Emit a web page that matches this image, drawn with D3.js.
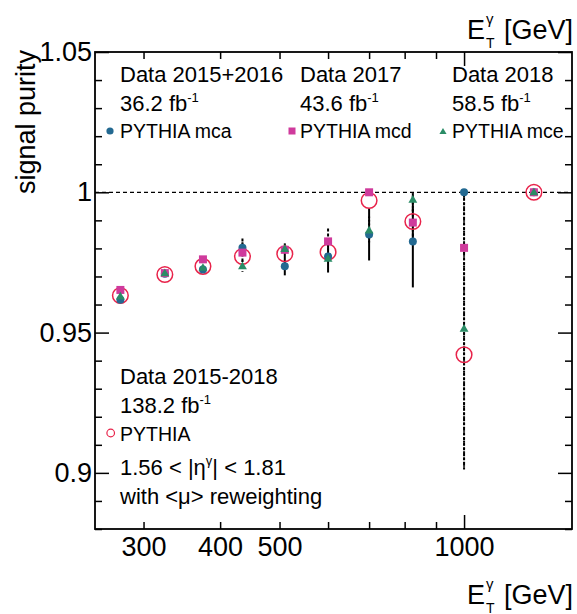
<!DOCTYPE html>
<html>
<head>
<meta charset="utf-8">
<script src="https://cdn.jsdelivr.net/npm/d3@7"></script>
<style>
  html, body { margin: 0; padding: 0; background: #fff; }
  svg { display: block; font-family: "Liberation Sans", Arial, Helvetica, sans-serif; }
</style>
</head>
<body>
<svg id="chart" width="577" height="614"></svg>
<script>
// ---------------- data ----------------
const binCenters = [275, 325, 375, 435, 510, 600, 700, 825, 1000, 1300];

const pythia = [0.9632, 0.9707, 0.9736, 0.9771, 0.9781, 0.9787, 0.9971, 0.9896, 0.9421, 1.0];

const mca    = [0.9617, 0.9710, 0.9725, 0.9802, 0.9736, 0.9771, 0.9850, 0.9825, 1.0000, 1.0];
const mcaLo  = [0, 0, 0, 0.002, 0.0032, 0.0057, 0.0093, 0.0164, 0, 0];
const mcaHi  = [0, 0, 0, 0.002, 0.0082, 0.0064, 0.0093, 0.0171, 0, 0];

const mcd    = [0.9652, 0.9712, 0.9761, 0.9785, 0.9795, 0.9825, 1.0000, 0.9892, 0.9802, 1.0];
const mcdLo  = [0, 0, 0, 0.005, 0, 0.003, 0, 0.005, 0.079, 0];
const mcdHi  = [0, 0, 0, 0.005, 0, 0.0046, 0, 0.005, 0.0198, 0];

const mce    = [0.9629, 0.9712, 0.9731, 0.9737, 0.9798, 0.9763, 0.9864, 0.9974, 0.9514, 1.0];
const mceLo  = [0, 0, 0, 0.002, 0, 0, 0.005, 0.005, 0.050, 0];
const mceHi  = [0, 0, 0, 0.002, 0, 0, 0.005, 0.0026, 0.0486, 0];

const xLabelTicks = [300, 400, 500, 1000];
const xMinorTicks = [300, 400, 500, 600, 700, 800, 900];
const xMajorTicks = [1000];
const yMajorTicks = [0.9, 0.95, 1.0, 1.05];
const yMinorTicks = [0.88, 0.89, 0.91, 0.92, 0.93, 0.94, 0.96, 0.97, 0.98, 0.99, 1.01, 1.02, 1.03, 1.04];

// ---------------- layout ----------------
const X0 = 95, X1 = 572, Y0 = 52, Y1 = 529;
const svg = d3.select("#chart");

const x = d3.scaleLog().domain([250, 1500]).range([X0, X1]);
const y = d3.scaleLinear().domain([0.88, 1.05]).range([Y1, Y0]);

const colMca = "#236991", colMcd = "#cf3a9c", colMce = "#2a8c66", colPy = "#e8234a";

// ---------------- axes ----------------
function styleAxis(g) {
  g.select(".domain").remove();
  g.selectAll(".tick line").attr("stroke", "#000").attr("stroke-width", 1.5);
  g.selectAll(".tick text").attr("fill", "#000").attr("font-size", 27)
    .attr("font-family", "'Liberation Sans', Arial, Helvetica, sans-serif");
}
// bottom
svg.append("g").attr("transform", `translate(0,${Y1})`)
  .call(d3.axisBottom(x).tickValues(xMinorTicks).tickSize(-7).tickFormat(""))
  .call(styleAxis);
svg.append("g").attr("transform", `translate(0,${Y1})`)
  .call(d3.axisBottom(x).tickValues(xMajorTicks).tickSize(-14).tickFormat(""))
  .call(styleAxis);
svg.append("g").attr("transform", `translate(0,${Y1})`)
  .call(d3.axisBottom(x).tickValues(xLabelTicks).tickSize(0).tickPadding(8).tickFormat(d3.format("d")))
  .call(styleAxis);
// top
svg.append("g").attr("transform", `translate(0,${Y0})`)
  .call(d3.axisTop(x).tickValues(xMinorTicks).tickSize(-7).tickFormat(""))
  .call(styleAxis);
svg.append("g").attr("transform", `translate(0,${Y0})`)
  .call(d3.axisTop(x).tickValues(xMajorTicks).tickSize(-14).tickFormat(""))
  .call(styleAxis);
// left
svg.append("g").attr("transform", `translate(${X0},0)`)
  .call(d3.axisLeft(y).tickValues(yMinorTicks).tickSize(-7).tickFormat(""))
  .call(styleAxis);
svg.append("g").attr("transform", `translate(${X0},0)`)
  .call(d3.axisLeft(y).tickValues(yMajorTicks).tickSize(-14).tickPadding(3).tickFormat(d => d === 1 ? "1" : d3.format("")(+d.toFixed(2))))
  .call(styleAxis);
// right
svg.append("g").attr("transform", `translate(${X1},0)`)
  .call(d3.axisRight(y).tickValues(yMinorTicks).tickSize(-7).tickFormat(""))
  .call(styleAxis);
svg.append("g").attr("transform", `translate(${X1},0)`)
  .call(d3.axisRight(y).tickValues(yMajorTicks).tickSize(-14).tickFormat(""))
  .call(styleAxis);

// frame
svg.append("rect").attr("x", X0).attr("y", Y0).attr("width", X1 - X0).attr("height", Y1 - Y0)
  .attr("fill", "none").attr("stroke", "#000").attr("stroke-width", 1.8);

// reference line at 1
svg.append("line").attr("x1", X0).attr("x2", X1).attr("y1", y(1)).attr("y2", y(1))
  .attr("stroke", "#000").attr("stroke-width", 1.2).attr("stroke-dasharray", "4,3");

// ---------------- error bars ----------------
function errBars(vals, lo, hi, dash) {
  svg.append("g").selectAll("line")
    .data(binCenters.map((c, i) => ({c, v: vals[i], lo: lo[i], hi: hi[i]})).filter(d => d.lo > 0 || d.hi > 0))
    .join("line")
    .attr("x1", d => x(d.c)).attr("x2", d => x(d.c))
    .attr("y1", d => y(d.v + d.hi)).attr("y2", d => y(d.v - d.lo))
    .attr("stroke", "#000").attr("stroke-width", 2)
    .attr("stroke-dasharray", dash);
}
errBars(mca, mcaLo, mcaHi, null);
errBars(mcd, mcdLo, mcdHi, "3,2");
errBars(mce, mceLo, mceHi, "1.5,2");

// ---------------- markers ----------------
const pts = arr => binCenters.map((c, i) => ({c, v: arr[i]}));

svg.append("g").selectAll("circle").data(pts(pythia)).join("circle")
  .attr("cx", d => x(d.c)).attr("cy", d => y(d.v)).attr("r", 7.8)
  .attr("fill", "none").attr("stroke", colPy).attr("stroke-width", 1.5);

svg.append("g").selectAll("circle").data(pts(mca)).join("circle")
  .attr("cx", d => x(d.c)).attr("cy", d => y(d.v)).attr("r", 4)
  .attr("fill", colMca);

svg.append("g").selectAll("rect").data(pts(mcd)).join("rect")
  .attr("x", d => x(d.c) - 4).attr("y", d => y(d.v) - 4).attr("width", 8).attr("height", 8)
  .attr("fill", colMcd);

const tri = d3.symbol().type(d3.symbolTriangle).size(34);
svg.append("g").selectAll("path").data(pts(mce)).join("path")
  .attr("transform", d => `translate(${x(d.c)},${y(d.v) + 0.5})`)
  .attr("d", tri).attr("fill", colMce);

// ---------------- texts ----------------
function txt(xp, yp, size, anchor) {
  return svg.append("text").attr("x", xp).attr("y", yp).attr("font-size", size)
    .attr("text-anchor", anchor || "start").attr("fill", "#000");
}
// y title
svg.append("text").attr("transform", "translate(35,50) rotate(-90)")
  .attr("text-anchor", "end").attr("font-size", 27).text("signal purity");

// x titles (top & bottom)
function xTitle(base) {
  txt(467, base, 27).text("E");
  txt(486, base + 8.5, 14).text("T");
  txt(486, base - 15, 15).text("γ");
  txt(573, base, 27, "end").text("[GeV]");
}
xTitle(39);
xTitle(604);

// top legend
const cols = [120, 300, 452];
const dataTitles = ["Data 2015+2016", "Data 2017", "Data 2018"];
const lumis = ["36.2", "43.6", "58.5"];
const mcNames = ["PYTHIA mca", "PYTHIA mcd", "PYTHIA mce"];
cols.forEach((cx, i) => {
  txt(cx, 82, 22).text(dataTitles[i]);
  const t = txt(cx, 111, 22);
  t.append("tspan").text(lumis[i] + " fb");
  t.append("tspan").attr("font-size", 13).attr("dy", -9).text("-1");
  txt(cx, 138, 19.5).text(mcNames[i]);
});
svg.append("circle").attr("cx", 110).attr("cy", 131).attr("r", 3.6).attr("fill", colMca);
svg.append("rect").attr("x", 288.5).attr("y", 127.5).attr("width", 7).attr("height", 7).attr("fill", colMcd);
svg.append("path").attr("transform", "translate(443,132)")
  .attr("d", d3.symbol().type(d3.symbolTriangle).size(22)).attr("fill", colMce);

// bottom legend
txt(120, 384, 22).text("Data 2015-2018");
{
  const t = txt(120, 413, 22);
  t.append("tspan").text("138.2 fb");
  t.append("tspan").attr("font-size", 13).attr("dy", -9).text("-1");
}
txt(120, 441, 19.5).text("PYTHIA");
svg.append("circle").attr("cx", 110.7).attr("cy", 433).attr("r", 3.8)
  .attr("fill", "none").attr("stroke", colPy).attr("stroke-width", 1.2);
{
  const t = txt(120, 475, 22);
  t.append("tspan").text("1.56 < |η");
  t.append("tspan").attr("font-size", 13).attr("dy", -10).text("γ");
  t.append("tspan").attr("dy", 10).text("| < 1.81");
}
txt(120, 504, 22).text("with <μ> reweighting");
</script>
</body>
</html>
